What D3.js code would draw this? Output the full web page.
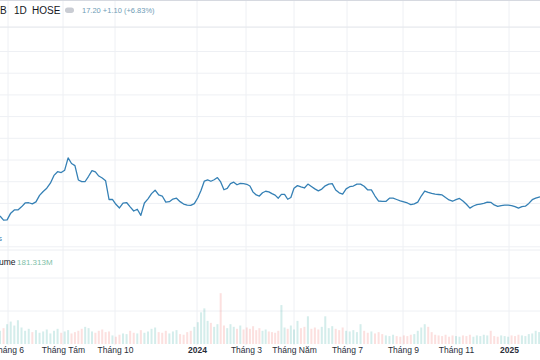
<!DOCTYPE html>
<html><head><meta charset="utf-8">
<script src="https://cdn.jsdelivr.net/npm/d3@7"></script>
<style>html,body{margin:0;padding:0;background:#fff;}svg{display:block;}</style>
</head><body>
<svg id="chart" width="540" height="360"></svg>
<script>
// ---- data ----
const startDate = "2023-05-23";
const endDate = "2025-02-06";
const stepDays = 4;
const tickDates = ["2023-06-01","2023-08-01","2023-10-01","2024-01-01","2024-03-01","2024-05-01","2024-07-01","2024-09-01","2024-11-01","2025-01-01"];
const tickLabels = ["Tháng 6","Tháng Tám","Tháng 10","2024","Tháng 3","Tháng Năm","Tháng 7","Tháng 9","Tháng 11","2025"];
const price = [
16.42,16.23,16.24,16.55,16.70,16.70,16.84,17.02,17.03,16.98,
17.07,17.37,17.55,17.70,17.93,18.29,18.46,18.42,18.53,19.10,
18.84,18.74,18.08,18.00,18.01,18.25,18.51,18.45,18.26,18.17,
18.04,17.18,17.18,16.96,16.79,17.01,17.04,16.84,16.65,16.73,
16.45,17.02,17.21,17.45,17.61,17.39,17.34,17.06,17.08,17.20,
17.24,17.08,16.97,16.92,16.91,16.99,17.26,17.61,18.03,18.08,
18.02,18.09,18.19,17.99,17.63,17.69,17.91,17.98,17.86,17.92,
17.91,17.88,17.80,17.52,17.39,17.34,17.49,17.56,17.53,17.45,
17.38,17.24,17.42,17.42,17.19,17.27,17.70,17.82,17.76,17.71,
17.89,17.78,17.67,17.58,17.66,17.81,17.89,17.91,17.62,17.49,
17.43,17.67,17.77,17.80,17.89,17.89,17.79,17.62,17.62,17.34,
17.11,17.09,17.09,17.24,17.24,17.18,17.12,17.07,17.02,16.94,
16.98,17.06,17.34,17.57,17.51,17.46,17.43,17.41,17.39,17.27,
17.16,17.10,17.17,17.23,17.11,16.96,16.78,16.88,16.94,16.97,
17.00,17.06,17.05,16.93,16.86,16.90,16.92,16.92,16.90,16.85,
16.78,16.85,16.87,17.00,17.17,17.24,17.29,17.32];
const volume = [ // millions
200,240,300,340,280,360,250,200,230,180,
210,170,190,220,160,200,230,170,190,210,
160,180,200,230,260,240,190,170,200,220,
180,190,130,110,140,160,150,200,170,160,
210,170,190,230,250,180,170,200,160,190,
210,150,140,180,200,260,330,480,540,350,
320,260,300,770,280,240,300,260,230,280,
220,250,230,270,210,240,200,220,190,180,
170,200,590,250,230,280,220,350,240,260,
420,230,250,220,260,420,240,270,230,210,
250,200,190,210,180,300,200,170,190,160,
180,150,130,120,140,120,110,130,120,140,
150,200,250,300,260,180,140,130,120,140,
110,130,120,110,130,120,140,110,130,120,
140,130,200,120,110,130,120,110,130,120,
140,130,120,150,160,200,181,180];
const priceGridValues = [24,23,22,21,20,19,18,17,16,15];
const volumeGridValues = [500,1000];

// ---- build ----
const parse = d3.utcParse("%Y-%m-%d");
const t0 = parse(startDate);
const points = price.map((p,i)=>({date:d3.utcDay.offset(t0, stepDays*i), price:p, vol:volume[i], up: i===0 ? true : p>=price[i-1]}));

const svg = d3.select("#chart");
const W = 540, H = 360;
const font = "'Liberation Sans', Arial, sans-serif";

const x = d3.scaleUtc()
  .domain([t0, ...tickDates.map(parse), parse(endDate)])
  .range([0, 8, 63, 115, 197, 246, 294, 347, 403, 456, 509, 540]);
const y = d3.scaleLinear().domain([17, 18]).range([203.4, 181.7]);
const yv = d3.scaleLinear().domain([0, 1000]).range([344, 278]);

// grid
const grid = svg.append("g");
grid.selectAll("line.v").data(tickDates.map(parse)).join("line")
  .attr("x1", d=>x(d)).attr("x2", d=>x(d)).attr("y1", 0).attr("y2", 345)
  .attr("stroke", "#eef0f4").attr("stroke-width", 1);
grid.selectAll("line.h").data(priceGridValues).join("line")
  .attr("x1", 0).attr("x2", W).attr("y1", d=>y(d)).attr("y2", d=>y(d))
  .attr("stroke", "#eef0f4");
grid.selectAll("line.hv").data(volumeGridValues).join("line")
  .attr("x1", 0).attr("x2", W).attr("y1", d=>yv(d)).attr("y2", d=>yv(d))
  .attr("stroke", "#eef0f4");
// header separators
svg.append("line").attr("x1",0).attr("x2",W).attr("y1",0.5).attr("y2",0.5).attr("stroke","#d6d9e0");
svg.append("rect").attr("x",0).attr("y",26.5).attr("width",W).attr("height",1.2).attr("fill","#e6e8ed");
svg.append("line").attr("x1",0).attr("x2",W).attr("y1",250).attr("y2",250).attr("stroke","#eceef2");

// volume bars
svg.append("g").selectAll("rect").data(points).join("rect")
  .attr("x", d=>x(d.date)-1).attr("width", 2)
  .attr("y", d=>yv(d.vol)).attr("height", d=>yv(0)-yv(d.vol))
  .attr("fill", d=>d.up ? "rgba(38,166,154,0.2)" : "rgba(239,83,80,0.18)");

// price line
svg.append("path").datum(points)
  .attr("d", d3.line().x(d=>x(d.date)).y(d=>y(d.price)))
  .attr("fill","none").attr("stroke","#3580b5").attr("stroke-width",1.3)
  .attr("stroke-linejoin","round");

// x axis labels
const xAxis = d3.axisBottom(x).tickValues(tickDates.map(parse))
  .tickFormat((d,i)=>tickLabels[i]).tickSize(0).tickPadding(0);
const ax = svg.append("g").attr("transform","translate(0,347)").call(xAxis);
ax.select(".domain").remove();
ax.selectAll("text").attr("font-family", font).attr("font-size", 8.5).attr("fill","#2a2e39")
  .attr("font-weight", (d,i)=>/^\d{4}$/.test(tickLabels[i]) ? "bold" : "normal");

// header text
const hdr = svg.append("g").attr("font-family", font);
hdr.append("text").attr("x",0).attr("y",13.5).attr("font-size",10).attr("fill","#131722").text("B");
hdr.append("text").attr("x",14).attr("y",13.5).attr("font-size",10).attr("fill","#131722").text("1D");
hdr.append("text").attr("x",32).attr("y",13.5).attr("font-size",10).attr("fill","#131722").text("HOSE");
hdr.append("rect").attr("x",65).attr("y",7.5).attr("width",9).attr("height",5.5).attr("rx",2.7).attr("fill","#c9ccd3");
hdr.append("text").attr("x",82).attr("y",13).attr("font-size",7.5).attr("fill","#6f9cb6").text("17.20 +1.10 (+6.83%)");

// volume label
svg.append("text").attr("x",-1).attr("y",265).attr("font-family",font).attr("font-size",8.5).attr("fill","#131722").text("ume");
svg.append("text").attr("x",17).attr("y",265).attr("font-family",font).attr("font-size",8).attr("fill","#7fbfa9").text("181.313M");
// cropped blue marker
svg.append("text").attr("x",-2).attr("y",241).attr("font-family",font).attr("font-size",8).attr("fill","#3b7bb0").text("s");
</script>
</body></html>
